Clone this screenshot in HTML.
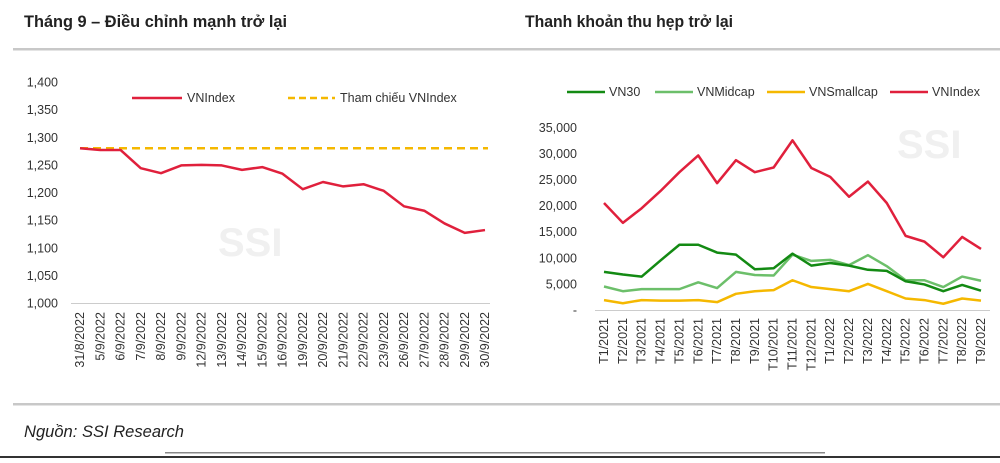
<!DOCTYPE html>
<html><head><meta charset="utf-8"><style>
body{margin:0;background:#fff;width:1000px;height:458px;overflow:hidden}
svg text{font-family:"Liberation Sans Narrow","Liberation Sans",sans-serif}
</style></head><body>
<svg id="s" width="1000" height="458" xmlns="http://www.w3.org/2000/svg">
<text x="24" y="27" font-size="17" font-weight="bold" fill="#222" textLength="263" lengthAdjust="spacingAndGlyphs">Tháng 9 – Điều chỉnh mạnh trở lại</text>
<text x="525" y="27" font-size="17" font-weight="bold" fill="#222" textLength="208" lengthAdjust="spacingAndGlyphs">Thanh khoản thu hẹp trở lại</text>
<rect x="13" y="48" width="987" height="2.5" fill="#c8c8c8"/>
<rect x="13" y="403" width="987" height="2.5" fill="#c8c8c8"/>
<text x="24" y="437" font-size="17" font-style="italic" fill="#222" textLength="160" lengthAdjust="spacingAndGlyphs">Nguồn: SSI Research</text>
<rect x="165" y="452" width="660" height="1.5" fill="#888"/>
<rect x="0" y="456" width="1000" height="2" fill="#333"/>
<text x="218" y="256" font-size="40" font-weight="bold" fill="#f0f0f0">SSI</text>
<text x="897" y="158" font-size="40" font-weight="bold" fill="#f0f0f0">SSI</text>
<g id="g"></g>
</svg>
<script>
var g=document.getElementById('g'),h='';
function T(x,y,t,a,extra){h+='<text x="'+x+'" y="'+y+'" font-size="12.5" fill="#333" text-anchor="'+(a||'start')+'" '+(extra||'')+'>'+t+'</text>';}
function P(pts,c,w,d){h+='<polyline points="'+pts.map(p=>p.join(',')).join(' ')+'" fill="none" stroke="'+c+'" stroke-width="'+w+'" stroke-linejoin="round" '+(d?'stroke-dasharray="'+d+'"':'')+'/>';}
// left chart
var L=[1280,1277,1277,1244,1235,1249,1250,1249,1241,1246,1234,1206,1219,1211,1215,1203,1175,1167,1144,1127,1132];
var ld=['31/8/2022','5/9/2022','6/9/2022','7/9/2022','8/9/2022','9/9/2022','12/9/2022','13/9/2022','14/9/2022','15/9/2022','16/9/2022','19/9/2022','20/9/2022','21/9/2022','22/9/2022','23/9/2022','26/9/2022','27/9/2022','28/9/2022','29/9/2022','30/9/2022'];
function ly(v){return 303-(v-1000)*0.5525;}
for(var v=1000;v<=1400;v+=50)T(58,ly(v)+4.5,(v/1000|0)+','+String(v%1000).padStart(3,'0'),'end');
h+='<line x1="71" y1="303.5" x2="490" y2="303.5" stroke="#ccc" stroke-width="1"/>';
P([[80,ly(1280)],[488,ly(1280)]],'#f5b800',2.5,'8,5');
P(L.map((v,i)=>[80+i*20.25,ly(v)]),'#e0203c',2.5);
ld.forEach((t,i)=>{var x=80+i*20.25+4;T(x,312,t,'end','transform="rotate(-90 '+x+' 312)"');});
h+='<line x1="132" y1="98" x2="182" y2="98" stroke="#e0203c" stroke-width="2.5"/>';T(187,102,'VNIndex');
h+='<line x1="288" y1="98" x2="335" y2="98" stroke="#f5b800" stroke-width="2.5" stroke-dasharray="7,4"/>';T(340,102,'Tham chiếu VNIndex');
// right chart
var vi=[20500,16700,19500,22800,26400,29600,24300,28700,26400,27300,32500,27200,25500,21700,24600,20500,14200,13100,10100,14000,11700];
var v30=[7300,6800,6400,9500,12500,12500,11000,10600,7800,8000,10800,8500,9000,8500,7700,7500,5500,4900,3600,4800,3700];
var mid=[4500,3600,4000,4000,4000,5300,4200,7300,6700,6600,10600,9400,9600,8600,10500,8400,5700,5700,4400,6400,5600];
var sm=[1900,1300,1900,1800,1800,1900,1500,3100,3600,3800,5700,4400,4000,3600,5000,3600,2200,1900,1200,2200,1800];
function ry(v){return 310-v*0.00522;}
for(var v=0;v<=35000;v+=5000)T(577,ry(v)+4.5,v?(v/1000)+',000':'-','end');
h+='<line x1="595" y1="310.5" x2="990" y2="310.5" stroke="#ccc" stroke-width="1"/>';
var rx=i=>604+i*18.85;
P(sm.map((v,i)=>[rx(i),ry(v)]),'#f5b800',2.5);
P(mid.map((v,i)=>[rx(i),ry(v)]),'#6cbf6a',2.5);
P(v30.map((v,i)=>[rx(i),ry(v)]),'#138a13',2.5);
P(vi.map((v,i)=>[rx(i),ry(v)]),'#e0203c',2.5);
for(var i=0;i<21;i++){var t='T'+(i<12?(i+1)+'/2021':(i-11)+'/2022');var x=rx(i)+4;T(x,318,t,'end','transform="rotate(-90 '+x+' 318)"');}
[[567,'#138a13','VN30'],[655,'#6cbf6a','VNMidcap'],[767,'#f5b800','VNSmallcap'],[890,'#e0203c','VNIndex']].forEach(a=>{h+='<line x1="'+a[0]+'" y1="92" x2="'+(a[0]+38)+'" y2="92" stroke="'+a[1]+'" stroke-width="2.5"/>';T(a[0]+42,96,a[2]);});
g.innerHTML=h;
</script>
</body></html>
